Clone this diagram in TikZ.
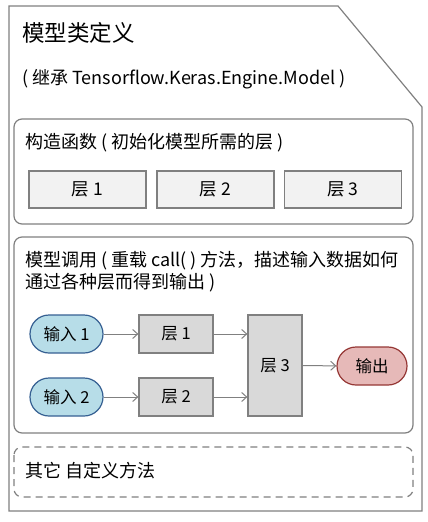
\documentclass[tikz,border=0pt]{standalone}
\usepackage{fontspec}
\setmainfont{Noto Sans CJK SC}
\usetikzlibrary{arrows.meta}

\definecolor{edgegray}{HTML}{808080}
\definecolor{layerfill}{HTML}{F2F2F2}
\definecolor{flowfill}{HTML}{D9D9D9}
\definecolor{infill}{HTML}{B7DDE8}
\definecolor{inedge}{HTML}{366092}
\definecolor{outfill}{HTML}{E6B9B8}
\definecolor{outedge}{HTML}{953735}

\tikzset{
  outerline/.style={draw=edgegray, line width=1.2pt},
  panel/.style={draw=edgegray, line width=1.2pt, rounded corners=8pt},
  label/.style={anchor=west, inner sep=0pt, font=\fontsize{18}{22}\selectfont, align=left},
  layerbox/.style={draw=edgegray, line width=1.2pt, fill=layerfill, minimum width=117pt, minimum height=37pt, font=\fontsize{17.5}{20}\selectfont},
  flowbox/.style={draw=edgegray, line width=1.2pt, fill=flowfill, minimum width=74pt, minimum height=38pt, font=\fontsize{16.5}{19}\selectfont},
  inbox/.style={draw=inedge, line width=1.2pt, fill=infill, minimum width=73pt, minimum height=38pt, rounded corners=19pt, font=\fontsize{16.5}{19}\selectfont},
  outbox/.style={draw=outedge, line width=1.2pt, fill=outfill, minimum width=70pt, minimum height=38pt, rounded corners=19pt, font=\fontsize{16.5}{19}\selectfont},
  flowarrow/.style={draw=edgegray, line width=1pt, -{Straight Barb[length=5pt, width=9pt]}}
}

\begin{document}
\begin{tikzpicture}[x=1pt, y=-1pt]
    \useasboundingbox (0,0) rectangle (428,522);

    % outer class shape with cut corner
    \draw[outerline] (9,6) -- (338,6) -- (422,107) -- (422,511) -- (9,511) -- cycle;
    \node[label, font=\fontsize{22.5}{26}\selectfont] (title) at (22,33) {模型类定义};
    \node[label] (base) at (22,79) {( 继承 Tensorflow.Keras.Engine.Model )};

    % constructor panel
    \draw[panel] (14,119) rectangle (413,224);
    \node[label] (init) at (25,143) {构造函数 ( 初始化模型所需的层 )};
    \node[layerbox] (a1) at (87.5,189.5) {层 1};
    \node[layerbox] (a2) at (215.5,189.5) {层 2};
    \node[layerbox] (a3) at (343,189.5) {层 3};

    % call panel
    \draw[panel] (14,237) rectangle (413,433);
    \node[label, anchor=north west] (call) at (25,251) {模型调用 ( 重载 call( ) 方法，描述输入数据如何\\通过各种层而得到输出 )};
    \node[inbox] (in1) at (66.5,334) {输入 1};
    \node[inbox] (in2) at (66.5,397) {输入 2};
    \node[flowbox] (b1) at (176,334) {层 1};
    \node[flowbox] (b2) at (176,397) {层 2};
    \node[flowbox, minimum width=54pt, minimum height=101pt] (b3) at (275,365.5) {层 3};
    \node[outbox] (out) at (372,366) {输出};

    \draw[flowarrow] (in1) -- (b1);
    \draw[flowarrow] (in2) -- (b2);
    \draw[flowarrow] (b1.east) -- (b1.east -| b3.west);
    \draw[flowarrow] (b2.east) -- (b2.east -| b3.west);
    \draw[flowarrow] (b3) -- (out);

    % other methods
    \draw[panel, dashed, dash pattern=on 7pt off 5pt] (14,447) rectangle (413,497);
    \node[label] (other) at (25,471) {其它 自定义方法};
\end{tikzpicture}
\end{document}
